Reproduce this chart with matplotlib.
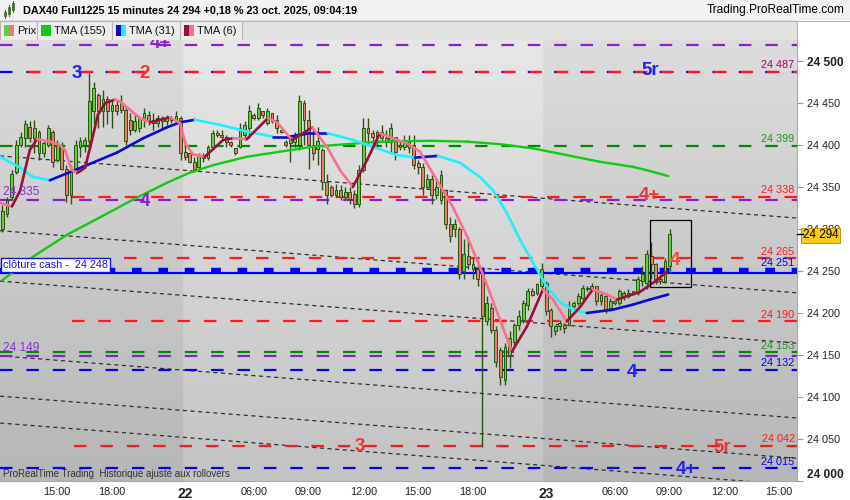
import matplotlib
matplotlib.use("Agg")
import matplotlib.pyplot as plt
import numpy as np
from matplotlib.patches import Rectangle
from matplotlib.collections import LineCollection
import matplotlib.transforms as mtransforms

plt.rcParams['font.family'] = ['Liberation Sans', 'DejaVu Sans']
plt.rcParams['lines.scale_dashes'] = False

W, H = 850, 500

# 15 minute bars: 21 oct 12:00 -> 21:45, 22 oct 02:15 -> 21:45, 23 oct 02:15 -> 09:00
opens = [24300, 24318, 24338, 24368, 24400, 24408, 24422, 24408, 24415, 24390,
         24400, 24415, 24382, 24398, 24372, 24340, 24368, 24398, 24400, 24405,
         24440, 24460, 24440, 24455, 24440, 24448, 24450, 24442, 24430, 24418,
         24420, 24430, 24436, 24430, 24426, 24432, 24428, 24432, 24430, 24432,
         24392, 24390, 24380, 24374, 24386, 24384, 24398, 24414, 24412, 24410,
         24404, 24396, 24398, 24412, 24420, 24436, 24432, 24440, 24426, 24438,
         24430, 24418, 24404, 24402, 24404, 24400, 24450, 24430, 24400, 24395,
         24394, 24356, 24350, 24340, 24346, 24338, 24344, 24342, 24330, 24370,
         24420, 24414, 24410, 24416, 24408, 24404, 24410, 24400, 24398, 24404,
         24400, 24378, 24374, 24350, 24360, 24340, 24334, 24346, 24306, 24300,
         24300, 24250, 24268, 24258, 24252, 24246, 24190, 24206, 24180, 24156,
         24120, 24150, 24166, 24186, 24192, 24210, 24226, 24224, 24232, 24236,
         24204, 24178, 24184, 24186, 24186, 24208, 24212, 24218, 24230, 24228,
         24232, 24214, 24220, 24206, 24212, 24212, 24224, 24220, 24224, 24224,
         24238, 24236, 24268, 24258, 24240, 24238, 24256]
highs = [24328, 24338, 24370, 24406, 24416, 24430, 24428, 24430, 24418, 24406,
         24424, 24418, 24406, 24403, 24376, 24376, 24406, 24410, 24410, 24486,
         24475, 24462, 24466, 24458, 24454, 24454, 24460, 24446, 24438, 24436,
         24434, 24444, 24440, 24438, 24436, 24434, 24436, 24434, 24440, 24434,
         24406, 24392, 24386, 24390, 24390, 24400, 24418, 24418, 24418, 24412,
         24405, 24396, 24426, 24428, 24448, 24438, 24450, 24440, 24444, 24438,
         24436, 24418, 24406, 24412, 24416, 24460, 24454, 24442, 24418, 24422,
         24396, 24366, 24352, 24354, 24352, 24350, 24350, 24346, 24376, 24432,
         24432, 24418, 24418, 24424, 24418, 24426, 24410, 24406, 24412, 24412,
         24412, 24382, 24378, 24366, 24364, 24358, 24370, 24348, 24314, 24312,
         24302, 24288, 24290, 24266, 24262, 24250, 24220, 24212, 24184, 24160,
         24164, 24178, 24188, 24204, 24216, 24230, 24230, 24236, 24260, 24238,
         24206, 24186, 24192, 24188, 24214, 24214, 24224, 24233, 24232, 24236,
         24232, 24226, 24222, 24218, 24216, 24228, 24226, 24228, 24226, 24244,
         24256, 24275, 24285, 24260, 24246, 24266, 24300]
lows = [24297, 24314, 24335, 24365, 24398, 24398, 24404, 24390, 24382, 24386,
        24398, 24374, 24380, 24370, 24332, 24330, 24366, 24386, 24392, 24395,
        24425, 24420, 24422, 24425, 24420, 24436, 24438, 24400, 24412, 24415,
        24416, 24422, 24424, 24418, 24422, 24420, 24424, 24426, 24426, 24382,
        24382, 24378, 24368, 24372, 24380, 24382, 24396, 24410, 24408, 24398,
        24398, 24388, 24396, 24406, 24408, 24430, 24430, 24432, 24424, 24426,
        24414, 24414, 24398, 24380, 24398, 24394, 24400, 24372, 24382, 24376,
        24346, 24330, 24338, 24338, 24334, 24334, 24330, 24325, 24326, 24368,
        24400, 24398, 24400, 24404, 24398, 24392, 24382, 24394, 24394, 24390,
        24372, 24366, 24340, 24348, 24330, 24336, 24330, 24300, 24284, 24290,
        24240, 24240, 24252, 24240, 24232, 24040, 24186, 24176, 24136, 24114,
        24114, 24134, 24160, 24180, 24188, 24204, 24220, 24222, 24228, 24198,
        24172, 24174, 24180, 24176, 24184, 24206, 24210, 24216, 24226, 24226,
        24210, 24210, 24200, 24202, 24210, 24210, 24216, 24218, 24222, 24222,
        24232, 24228, 24240, 24235, 24234, 24236, 24250]
closes = [24322, 24335, 24366, 24400, 24410, 24425, 24408, 24420, 24390, 24402,
          24420, 24380, 24400, 24372, 24340, 24370, 24400, 24405, 24406, 24452,
          24468, 24440, 24455, 24440, 24448, 24440, 24442, 24405, 24418, 24428,
          24432, 24438, 24430, 24426, 24432, 24428, 24432, 24430, 24434, 24390,
          24386, 24380, 24372, 24388, 24384, 24398, 24414, 24412, 24410, 24404,
          24400, 24390, 24420, 24424, 24440, 24432, 24444, 24436, 24440, 24428,
          24420, 24416, 24400, 24408, 24412, 24452, 24430, 24400, 24390, 24405,
          24356, 24340, 24340, 24346, 24338, 24344, 24336, 24330, 24370, 24420,
          24414, 24410, 24416, 24408, 24404, 24420, 24392, 24398, 24404, 24396,
          24376, 24374, 24350, 24360, 24340, 24350, 24364, 24306, 24292, 24306,
          24246, 24270, 24258, 24252, 24240, 24196, 24212, 24180, 24142, 24124,
          24160, 24170, 24186, 24196, 24212, 24226, 24222, 24234, 24252, 24202,
          24184, 24184, 24188, 24182, 24208, 24212, 24220, 24230, 24228, 24232,
          24214, 24222, 24204, 24214, 24214, 24226, 24220, 24224, 24226, 24240,
          24246, 24270, 24258, 24240, 24238, 24262, 24294]

day_starts = [40, 119]
tick_pos = [12, 24, 40, 55, 67, 79, 91, 103, 119, 134, 146, 158, 170]
tick_text = ["15:00", "18:00", "22", "06:00", "09:00", "12:00", "15:00", "18:00",
             "23", "06:00", "09:00", "12:00", "15:00"]

# moving averages as read on the chart (bar position, value)
tma155_x = [0, 6.7, 14.1, 21.4, 28.6, 36.0, 41.0, 46.1, 53.5, 60.7, 68.0, 75.4,
            82.6, 93.6, 101.7, 108.9, 116.1, 123.5, 130.8, 138.0, 141.7, 145.7]
tma155_y = [24239, 24267, 24293, 24314, 24335, 24355, 24367, 24376, 24386, 24392,
            24398, 24401, 24404, 24405, 24404, 24401, 24396, 24388, 24380, 24374,
            24369, 24363]
tma31_x = [-0.5, 3.9, 6.7, 10.4, 17.6, 25.1, 30.8, 36.0, 38.9, 42.1, 47.6, 53.5,
           59.2, 62.9, 67.3, 71.2, 76.7, 81.1, 86.3, 90.3, 95.3, 100.1, 104.5,
           107.4, 110.4, 113.3, 116.1, 119.2, 122.0, 124.9, 127.9, 133.6, 138.0,
           141.7, 145.7]
tma31_y = [24386, 24373, 24362, 24358, 24374, 24391, 24408, 24421, 24427, 24430,
           24424, 24416, 24410, 24410, 24414, 24414, 24406, 24398, 24388, 24385,
           24387, 24379, 24362, 24346, 24319, 24287, 24260, 24231, 24213, 24204,
           24200, 24204, 24210, 24216, 24222]
tma6_x = [-0.5, 2.1, 3.9, 6.0, 7.6, 10.4, 12.6, 13.7, 15.2, 16.5, 18.1, 19.6,
          20.9, 22.5, 24.6, 25.7, 30.1, 32.3, 34.5, 36.7, 38.9, 40.0, 41.7, 44.3,
          48.3, 50.5, 53.5, 58.1, 60.1, 63.4, 67.8, 71.0, 73.9, 76.7, 79.8, 82.6,
          88.5, 91.4, 95.1, 98.6, 101.7, 104.5, 106.7, 108.9, 111.5, 114.8, 118.3,
          120.5, 123.5, 126.4, 129.2, 132.3, 134.5, 139.5, 143.2, 145.4]
tma6_y = [24331, 24327, 24346, 24394, 24407, 24404, 24400, 24394, 24370, 24367,
          24373, 24406, 24436, 24450, 24454, 24452, 24432, 24427, 24430, 24433,
          24426, 24402, 24389, 24386, 24406, 24408, 24407, 24432, 24427, 24406,
          24421, 24398, 24370, 24350, 24382, 24414, 24402, 24392, 24358, 24326,
          24291, 24255, 24224, 24192, 24154, 24184, 24228, 24216, 24190, 24207,
          24228, 24222, 24216, 24225, 24239, 24249]

# horizontal levels
PURPLE, BLUE, RED, GREEN = '#8a1fcf', '#0000ff', '#ff1a1a', '#008a00'
level_vals = [24519, 24487, 24487, 24399, 24338, 24335, 24265, 24251, 24190,
              24153, 24149, 24132, 24042, 24015]
level_cols = [PURPLE, BLUE, RED, GREEN, RED, PURPLE, RED, BLUE, RED,
              GREEN, PURPLE, BLUE, RED, BLUE]
level_from = [-0.5, -0.5, 5.5, -0.5, 15.2, -0.5, 26.6, -0.5, 15.2,
              -0.5, -0.5, -0.5, 15.7, -0.5]
cash_close = 24248

right_vals = [24487, 24399, 24338, 24265, 24251, 24190, 24153, 24132, 24042, 24015]
right_cols = ['#a8006a', '#1a9a1a', RED, RED, BLUE, RED, '#1a9a1a', BLUE, RED, BLUE]
left_vals = [24335, 24149]

tag_text = ["3", "2", "5r", "4+", "4", "4+", "4", "4", "3", "5r", "4+"]
tag_bar = [16.3, 31.2, 141.7, 34.5, 31.2, 141.7, 147.2, 137.8, 78.2, 157.5, 149.6]
tag_val = [24487, 24487, 24491, 24523, 24335, 24342, 24265, 24132, 24043, 24042, 24016]
tag_col = ['#2020ff', '#ee3535', '#2020ff', PURPLE, PURPLE, '#ee3535', '#ee4a4a',
           '#2020ff', '#ee3535', '#ee3535', '#2020ff']

# channel lines: value at left and right edge of the plot
chan_left = [24387, 24298, 24238, 24149, 24101, 24069]
chan_right = [24313, 24224, 24164, 24075, 24027, 23995]

box_bars = (141.7, 150.7)
box_vals = (24231, 24311)

last_price = 24294

fmt = lambda v: f"{v:,.0f}".replace(",", " ")

fig = plt.figure(figsize=(W / 100, H / 100), dpi=100)
fig.patch.set_facecolor('white')
ax = fig.add_axes([0, 19 / H, 797 / W, 441 / H])
x0, x1 = -0.525, 173.9
y0, y1 = 24000, 24525
ax.set_xlim(x0, x1)
ax.set_ylim(y0, y1)

# background gradient, alternating by day
xs = np.linspace(x0, x1, 600)
light = (xs >= day_starts[0] - 0.5) & (xs < day_starts[1] - 0.5)
t = np.linspace(0, 1, 200)[:, None]
top = np.where(light, 0.905, 0.865)[None, :]
bot = np.where(light, 0.765, 0.715)[None, :]
g = top - (top - bot) * t
img = np.dstack([g, g, g])
ax.imshow(img, extent=[x0, x1, y0, y1], aspect='auto', zorder=0, origin='upper')

# channel lines
for a, b in zip(chan_left, chan_right):
    ax.plot([x0, x1], [a, b], color='#303030', lw=0.9, ls=(0, (3, 2.5)), zorder=1)

# levels
for v, c, s in zip(level_vals, level_cols, level_from):
    if v == 24251:
        ax.plot([s, x1], [cash_close, cash_close], color=c, lw=1.6, zorder=2)
        ax.plot([s, x1], [v, v], color=c, lw=3.2, ls=(0, (7, 12)), zorder=2)
        continue
    ax.plot([s, x1], [v, v], color=c, lw=1.6, ls=(0, (9, 10)), zorder=2)

# candles
o = np.array(opens); h = np.array(highs); l = np.array(lows); c = np.array(closes)
bars = np.arange(len(c))
up = c >= o
ax.vlines(bars, l, h, color='#2b5414', lw=1.0, zorder=3)
ax.bar(bars[up], c[up] - o[up], bottom=o[up], width=0.62, color='#63cf3c',
       edgecolor='#2b5414', linewidth=0.7, zorder=3)
ax.bar(bars[~up], o[~up] - c[~up], bottom=c[~up], width=0.62, color='#ee7a6a',
       edgecolor='#2b5414', linewidth=0.7, zorder=3)


def slope_line(xv, yv, up_col, down_col, lw):
    pts = np.column_stack([xv, yv])
    segs = np.stack([pts[:-1], pts[1:]], axis=1)
    cols = [up_col if b >= a else down_col for a, b in zip(yv[:-1], yv[1:])]
    ax.add_collection(LineCollection(segs, colors=cols, linewidths=lw, zorder=4,
                                     capstyle='round', joinstyle='round'))


slope_line(tma155_x, tma155_y, '#10cc10', '#10cc10', 1.7)
slope_line(tma31_x, tma31_y, '#0a0ad0', '#1ef0ff', 1.9)
slope_line(tma6_x, tma6_y, '#9a0f3c', '#ff6e8e', 1.9)

ax.add_patch(Rectangle((box_bars[0], box_vals[0]), box_bars[1] - box_bars[0],
                       box_vals[1] - box_vals[0], fill=False, ec='black', lw=0.9, zorder=5))

# labels on the levels
tr_r = mtransforms.blended_transform_factory(ax.transAxes, ax.transData)
for v, col in zip(right_vals, right_cols):
    ax.text(0.997, v + 2, fmt(v), transform=tr_r, ha='right', va='bottom',
            fontsize=7.8, color=col, zorder=6)
for v in left_vals:
    ax.text(0.004, v + 2, fmt(v), transform=tr_r, ha='left', va='bottom',
            fontsize=8.6, color='#8a2fd0', zorder=6)
for s, xb, v, col in zip(tag_text, tag_bar, tag_val, tag_col):
    ax.text(xb, v, s, ha='center', va='center_baseline', fontsize=13.5,
            fontweight='bold', color=col, zorder=6, clip_on=True)

ax.text(0.004, cash_close + 3, "clôture cash -  " + fmt(cash_close), transform=tr_r,
        ha='left', va='bottom', fontsize=7.8, color='#1010e0', zorder=7,
        bbox=dict(boxstyle='square,pad=0.18', fc='white', ec='#1010e0', lw=1))
ax.text(0.004, 0.004, "ProRealTime Trading  Historique ajusté aux rollovers",
        transform=ax.transAxes, ha='left', va='bottom', fontsize=7, color='#333333',
        zorder=7)

# axes
ax.yaxis.tick_right()
yt = list(range(24000, 24501, 50))
ax.set_yticks(yt)
ax.set_yticklabels([fmt(v) for v in yt])
ax.tick_params(axis='y', length=4, color='#999999', labelsize=7.8, pad=3,
               labelcolor='#222222')
for lab, v in zip(ax.get_yticklabels(), yt):
    if v in (24000, 24500):
        lab.set_fontweight('bold')
        lab.set_fontsize(8.6)
    if v == 24000:
        lab.set_verticalalignment('bottom')
ax.set_xticks(tick_pos)
ax.set_xticklabels(tick_text)
ax.tick_params(axis='x', length=0, labelsize=7.8, pad=4, labelcolor='#222222')
for lab, s in zip(ax.get_xticklabels(), tick_text):
    if len(s) == 2:
        lab.set_fontweight('bold')
        lab.set_fontsize(10)
for sp in ['left', 'top']:
    ax.spines[sp].set_visible(False)
for sp in ['right', 'bottom']:
    ax.spines[sp].set_color('#aaaaaa')

# last price label (sits over the 24 300 tick label, as in the platform)
ax.annotate(fmt(last_price), xy=(1.0, last_price), xycoords=tr_r,
            xytext=(4, -1), textcoords='offset points', ha='left', va='center',
            fontsize=8.4, color='black', annotation_clip=False, zorder=8,
            bbox=dict(boxstyle='square,pad=0.14', fc='#ffcc1a', ec='#b08a00', lw=0.6))
ax.plot([1.0, 1.008], [last_price, last_price], transform=tr_r, color='black',
        lw=1, clip_on=False, zorder=8)

# header (title row + indicator legend row), drawn in pixel units
hd = fig.add_axes([0, 1 - 40 / H, 1, 40 / H])
hd.set_xlim(0, W)
hd.set_ylim(40, 0)
hd.axis('off')
hd.add_patch(Rectangle((0, 0), W, 20, fc='#f2f2f2', ec='none'))
hd.add_patch(Rectangle((0, 20), 797, 20, fc='#e2e2e2', ec='none'))
hd.add_patch(Rectangle((797, 20), W - 797, 20, fc='white', ec='none'))
hd.plot([0, W], [20.5, 20.5], color='#b5b5b5', lw=0.8)
hd.plot([797, 797], [20.5, 40], color='#b5b5b5', lw=0.8)
for xs_ in [(5, 12, 16), (9, 7, 14), (13, 3, 10)]:
    hd.plot([xs_[0], xs_[0]], [xs_[1] - 2, xs_[2] + 2], color='#2b7a14', lw=0.7)
    hd.add_patch(Rectangle((xs_[0] - 1.3, xs_[1]), 2.6, xs_[2] - xs_[1], fc='#63cf3c',
                           ec='#2b5414', lw=0.5))
hd.text(23, 10.5, "DAX40 Full1225 15 minutes 24 294 +0,18 % 23 oct. 2025, 09:04:19",
        fontsize=7.8, fontweight='bold', va='center', ha='left', color='black')
hd.text(845, 10.5, "Trading.ProRealTime.com", fontsize=8.6, va='center', ha='right',
        color='black')

legend_boxes = [(0, 37, "Prix", ['#63cf3c', '#ee7a6a']),
                (37, 112, "TMA (155)", ['#10cc10', '#10cc10']),
                (112, 180, "TMA (31)", ['#0a0ad0', '#1ef0ff']),
                (180, 242, "TMA (6)", ['#9a0f3c', '#ff6e8e'])]
for a, b, s, cols in legend_boxes:
    hd.add_patch(Rectangle((a, 21), b - a, 19, fc='#ececec', ec='#b8b8b8', lw=0.8))
    hd.add_patch(Rectangle((a + 4, 25), 5, 11, fc=cols[0], ec='none'))
    hd.add_patch(Rectangle((a + 9, 25), 5, 11, fc=cols[1], ec='none'))
    hd.text(a + 17, 30.5, s, fontsize=8, va='center', ha='left', color='#111111')

fig.savefig("out.png", dpi=100)
